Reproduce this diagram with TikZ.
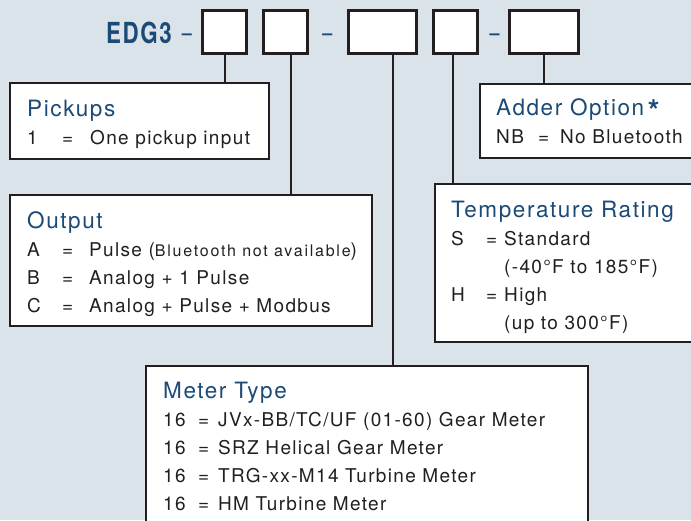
\documentclass[tikz,border=0pt]{standalone}
\usepackage{fontspec}
\setmainfont{TeX Gyre Heros}[LetterSpace=7.0]
\usepackage{graphicx}
\usepackage{array}
\definecolor{panel}{HTML}{DBE3EA}
\definecolor{navy}{HTML}{1B4A77}
\definecolor{ink}{HTML}{231F20}
\tikzset{
  codebox/.style={draw=ink, line width=2.2pt, fill=white, minimum width=#1, minimum height=43pt, inner sep=0pt},
  descbox/.style={draw=ink, line width=2.2pt, fill=white, inner sep=0pt, anchor=north west},
  stem/.style={draw=ink, line width=2pt},
  desctext/.style={anchor=base west, inner sep=0pt, text=ink, font=\fontsize{19}{28}\selectfont},
  sep/.style={anchor=base, inner sep=0pt, text=navy, font=\fontsize{18}{20}\selectfont\bfseries},
}
\newcommand{\desctitle}[1]{\multicolumn{3}{@{}l@{}}{\color{navy}\fontsize{22.5}{28}\selectfont #1}}
\begin{document}
\begin{tikzpicture}[x=1pt, y=-1pt]
\fill[panel] (0,0) rectangle (691,520);
\useasboundingbox (0,0) rectangle (691,520);
% model code
\node[anchor=base west, inner sep=0pt, text=navy, font=\fontsize{29}{30}\selectfont\bfseries] (model) at (106,43) {\scalebox{0.77}[1]{EDG3}};
\node[sep] (dash1) at (187,39) {–};
\node[sep] (dash2) at (327.5,39) {–};
\node[sep] (dash3) at (494.5,39) {–};
\node[codebox=44pt] (c1) at (224.5,32) {};
\node[codebox=44pt] (c2) at (285.5,32) {};
\node[codebox=68pt] (c3) at (382.5,32) {};
\node[codebox=44pt] (c4) at (455.5,32) {};
\node[codebox=69pt] (c5) at (544,32) {};
% option boxes
\node[descbox, minimum width=259pt, minimum height=76pt] (pickups) at (9,82) {};
\node[descbox, minimum width=362pt, minimum height=131pt] (output) at (9,194) {};
\node[descbox, minimum width=250pt, minimum height=74pt] (adder) at (479,83) {};
\node[descbox, minimum width=300pt, minimum height=158pt] (temp) at (434,183) {};
\node[descbox, minimum width=442pt, minimum height=200pt] (meter) at (145,365) {};
% stems
\draw[stem] (c1.south) -- (c1.south |- pickups.north);
\draw[stem] ([xshift=5.5pt]c2.south) -- ([xshift=5.5pt]c2.south |- output.north);
\draw[stem] ([xshift=10.5pt]c3.south) -- ([xshift=10.5pt]c3.south |- meter.north);
\draw[stem] ([xshift=-2.5pt]c4.south) -- ([xshift=-2.5pt]c4.south |- temp.north);
\draw[stem] (c5.south) -- (c5.south |- adder.north);
% texts
\node[desctext] (pickupstxt) at (27,116) {\begin{tabular}[t]{@{}w{l}{35pt}@{}w{l}{28pt}@{}l@{}}
  \desctitle{Pickups}\\
  1 & = & One pickup input
\end{tabular}};
\node[desctext] (outputtxt) at (27,228) {\begin{tabular}[t]{@{}w{l}{35pt}@{}w{l}{27pt}@{}l@{}}
  \desctitle{Output}\\
  A & = & Pulse ({\fontsize{16}{28}\selectfont\addfontfeatures{LetterSpace=11}Bluetooth not available})\\
  B & = & Analog + 1 Pulse\\
  C & = & Analog + Pulse + Modbus
\end{tabular}};
\node[desctext] (addertxt) at (496,115) {\begin{tabular}[t]{@{}w{l}{42pt}@{}w{l}{22pt}@{}l@{}}
  \desctitle{Adder Option\,\raisebox{-6pt}{\fontsize{30}{30}\selectfont\bfseries *}}\\
  NB & = & No Bluetooth
\end{tabular}};
\node[desctext] (temptxt) at (451,217) {\begin{tabular}[t]{@{}w{l}{35pt}@{}w{l}{18pt}@{}l@{}}
  \desctitle{Temperature Rating}\\
  S & = & Standard\\
    &   & (-40°F to 185°F)\\
  H & = & High\\
    &   & (up to 300°F)
\end{tabular}};
\node[desctext] (metertxt) at (163,398) {\begin{tabular}[t]{@{}w{l}{35pt}@{}w{l}{20pt}@{}l@{}}
  \desctitle{Meter Type}\\
  16 & = & JVx-BB/TC/UF (01-60) Gear Meter\\
  16 & = & SRZ Helical Gear Meter\\
  16 & = & TRG-xx-M14 Turbine Meter\\
  16 & = & HM Turbine Meter
\end{tabular}};
\end{tikzpicture}
\end{document}
